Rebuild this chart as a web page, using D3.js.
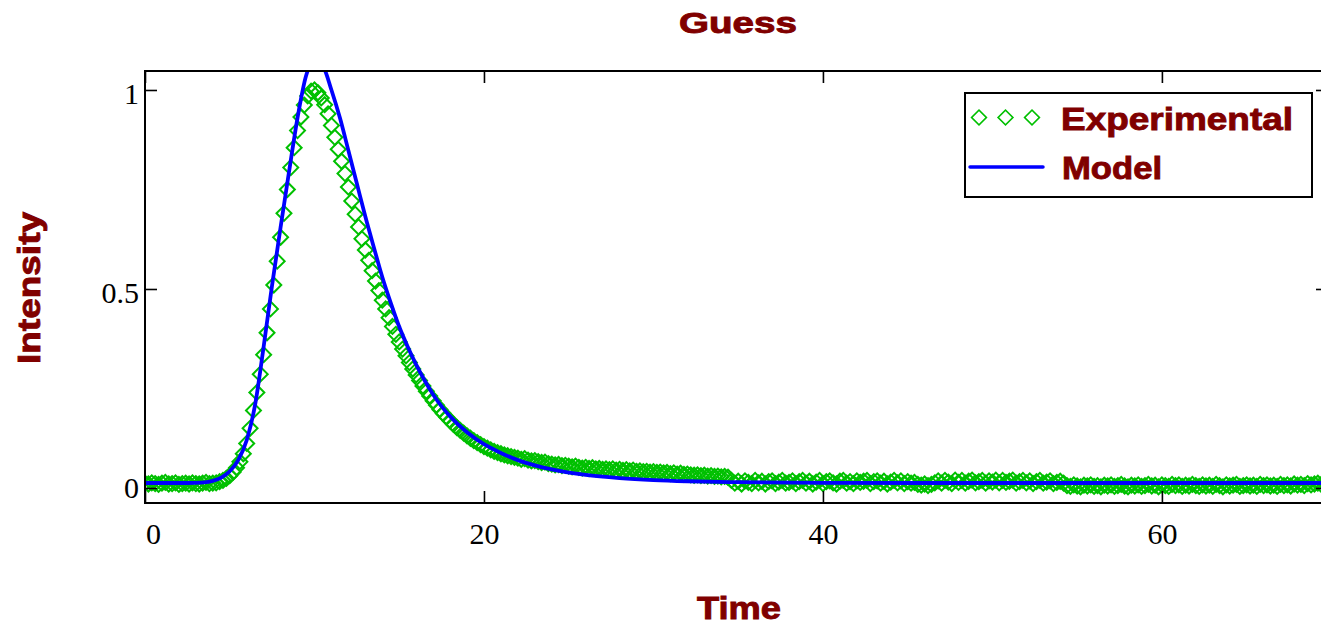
<!DOCTYPE html>
<html>
<head>
<meta charset="utf-8">
<script src="https://cdn.jsdelivr.net/npm/d3@7"></script>
<style>
  html, body { margin: 0; padding: 0; background: #ffffff; }
  svg { display: block; }
</style>
</head>
<body>
<svg id="chart" width="1321" height="627"></svg>
<script>
// ---------------- DATA ----------------
const chartTitle = "Guess";
const xAxisTitle = "Time";
const yAxisTitle = "Intensity";
const seriesNames = ["Experimental", "Model"];

const xTicks = [0, 20, 40, 60];
const yTicks = [0, 0.5, 1];
const xDomain = [0, 69.8];
const yDomain = [-0.0377, 1.0477];

// Experimental series: sampled every 0.2 time units starting at 0
const sampleStart = 0;
const sampleStep = 0.2;
const experimentalValues = [
  // 0.0 - 3.8
  0.012, 0.010, 0.013, 0.011, 0.009, 0.012, 0.014, 0.010, 0.011, 0.013,
  0.009, 0.011, 0.012, 0.010, 0.013, 0.011, 0.010, 0.012, 0.014, 0.011,
  // 4.0 - 9.8
  0.012, 0.013, 0.016, 0.019, 0.024, 0.031, 0.040, 0.051, 0.066, 0.086,
  0.112, 0.150, 0.195, 0.240, 0.286, 0.335, 0.390, 0.450, 0.510, 0.570,
  0.630, 0.690, 0.750, 0.805, 0.855, 0.898, 0.932, 0.962, 0.985, 0.997,
  // 10.0 - 21.8
  1.000, 0.993, 0.980, 0.963, 0.940, 0.911, 0.881, 0.851, 0.821, 0.790,
  0.756, 0.721, 0.688, 0.656, 0.626, 0.598, 0.572, 0.546, 0.520, 0.496,
  0.472, 0.450, 0.428, 0.406, 0.386, 0.367, 0.349, 0.332, 0.315, 0.299,
  0.284, 0.270, 0.256, 0.243, 0.231, 0.219, 0.208, 0.197, 0.187, 0.178,
  0.169, 0.160, 0.152, 0.145, 0.138, 0.131, 0.125, 0.119, 0.114, 0.109,
  0.104, 0.100, 0.096, 0.092, 0.089, 0.086, 0.083, 0.081, 0.079, 0.077,
  // 22.0 - 34.4
  0.075, 0.072, 0.074, 0.070, 0.068, 0.069, 0.066, 0.064, 0.065, 0.061,
  0.060, 0.058, 0.059, 0.056, 0.057, 0.055, 0.053, 0.055, 0.052, 0.050,
  0.052, 0.049, 0.051, 0.048, 0.049, 0.047, 0.048, 0.046, 0.048, 0.045,
  0.047, 0.044, 0.046, 0.043, 0.045, 0.042, 0.043, 0.041, 0.042, 0.040,
  0.041, 0.039, 0.040, 0.038, 0.039, 0.036, 0.038, 0.035, 0.037, 0.034,
  0.035, 0.033, 0.032, 0.033, 0.031, 0.032, 0.030, 0.031, 0.029, 0.030,
  0.028, 0.029, 0.027,
  // 34.6 - 54.2
  0.019, 0.012, 0.017, 0.010, 0.018, 0.014, 0.011, 0.019, 0.013, 0.017,
  0.010, 0.016, 0.018, 0.011, 0.015, 0.019, 0.012, 0.014, 0.018, 0.011,
  0.016, 0.019, 0.012, 0.017, 0.010, 0.015, 0.019, 0.011, 0.016, 0.018,
  0.013, 0.010, 0.017, 0.019, 0.012, 0.016, 0.011, 0.018, 0.014, 0.017,
  0.019, 0.011, 0.016, 0.018, 0.012, 0.017, 0.010, 0.015, 0.019, 0.013,
  0.018, 0.011, 0.016, 0.012, 0.014, 0.009, 0.007, 0.010, 0.006, 0.009,
  0.013, 0.018, 0.012, 0.019, 0.015, 0.011, 0.020, 0.014, 0.019, 0.012,
  0.017, 0.020, 0.013, 0.016, 0.019, 0.012, 0.018, 0.015, 0.020, 0.013,
  0.019, 0.014, 0.017, 0.020, 0.012, 0.016, 0.019, 0.013, 0.018, 0.011,
  0.016, 0.019, 0.012, 0.015, 0.018, 0.011, 0.014, 0.017, 0.012,
  // 54.4 - 69.8
  0.006, 0.004, 0.008, 0.005, 0.003, 0.007, 0.005, 0.008, 0.004, 0.006,
  0.003, 0.007, 0.005, 0.008, 0.004, 0.006, 0.009, 0.005, 0.003, 0.007,
  0.005, 0.008, 0.004, 0.006, 0.009, 0.005, 0.007, 0.003, 0.008, 0.006,
  0.004, 0.009, 0.006, 0.008, 0.004, 0.007, 0.005, 0.009, 0.006, 0.004,
  0.008, 0.005, 0.007, 0.004, 0.009, 0.006, 0.003, 0.008, 0.005, 0.007,
  0.009, 0.004, 0.006, 0.008, 0.005, 0.007, 0.004, 0.009, 0.006, 0.008,
  0.005, 0.007, 0.004, 0.009, 0.006, 0.008, 0.005, 0.010, 0.007, 0.009,
  0.006, 0.011, 0.008, 0.010, 0.012, 0.009, 0.011, 0.010
];

// Model series
const modelTime = [
  0, 2, 3, 3.5, 4, 4.5, 5, 5.5, 6, 6.5, 7, 7.5, 8, 8.5, 9, 9.5, 10, 10.5,
  11, 11.5, 12, 12.5, 13, 13.5, 14, 14.5, 15, 15.5, 16, 16.5, 17, 17.5, 18,
  19, 20, 21, 22, 23, 24, 26, 28, 30, 32, 35, 40, 50, 60, 69.8
];
const modelValues = [
  0.0125, 0.0125, 0.013, 0.014, 0.018, 0.026, 0.042, 0.070, 0.120, 0.210,
  0.355, 0.510, 0.655, 0.795, 0.930, 1.035, 1.075, 1.060, 1.000, 0.930,
  0.848, 0.765, 0.682, 0.605, 0.530, 0.465, 0.405, 0.355, 0.310, 0.270,
  0.235, 0.205, 0.180, 0.140, 0.110, 0.088, 0.070, 0.057, 0.047, 0.033,
  0.025, 0.020, 0.017, 0.0145, 0.013, 0.0125, 0.0125, 0.0125
];

// ---------------- LAYOUT ----------------
const plotLeft = 145, plotRight = 1328, plotTop = 71, plotBottom = 503;
const darkRed = "#800000";
const green = "#00c000";
const blue = "#0000ff";

const svg = d3.select("#chart");

const x = d3.scaleLinear().domain(xDomain).range([plotLeft, plotRight]);
const y = d3.scaleLinear().domain(yDomain).range([plotBottom, plotTop]);

const expData = experimentalValues.map((v, i) => ({ t: sampleStart + i * sampleStep, v }));
const modelData = modelTime.map((t, i) => ({ t, v: modelValues[i] }));

svg.append("defs").append("clipPath").attr("id", "plotClip")
  .append("rect")
  .attr("x", plotLeft).attr("y", plotTop)
  .attr("width", plotRight - plotLeft).attr("height", plotBottom - plotTop);

const plot = svg.append("g").attr("clip-path", "url(#plotClip)");

const diamond = d3.symbol().type(d3.symbolSquare).size(112);

plot.append("g")
  .selectAll("path")
  .data(expData)
  .join("path")
  .attr("d", diamond)
  .attr("transform", d => `translate(${x(d.t)},${y(d.v)}) rotate(45)`)
  .attr("fill", "none")
  .attr("stroke", green)
  .attr("stroke-width", 2);

const line = d3.line()
  .x(d => x(d.t))
  .y(d => y(d.v))
  .curve(d3.curveMonotoneX);

plot.append("path")
  .datum(modelData)
  .attr("d", line)
  .attr("fill", "none")
  .attr("stroke", blue)
  .attr("stroke-width", 3.8);

// ---------------- AXES ----------------
const tickStyle = g => {
  g.select(".domain").remove();
  g.selectAll(".tick line").attr("stroke", "#000").attr("stroke-width", 1.6);
};

const serifFont = "'Liberation Serif', 'Times New Roman', serif";

const xAxisBottom = svg.append("g")
  .attr("transform", `translate(0,${plotBottom})`)
  .call(d3.axisBottom(x).tickValues(xTicks).tickSize(-12).tickFormat(d3.format("d")))
  .call(tickStyle);
xAxisBottom.selectAll("text")
  .attr("y", 41).attr("dy", 0)
  .attr("dx", d => d === 0 ? 8 : 0)
  .attr("font-family", serifFont)
  .attr("font-size", 30)
  .attr("fill", "#000");

svg.append("g")
  .attr("transform", `translate(0,${plotTop})`)
  .call(d3.axisTop(x).tickValues(xTicks).tickSize(-12).tickFormat(""))
  .call(tickStyle);

const yAxisLeft = svg.append("g")
  .attr("transform", `translate(${plotLeft},0)`)
  .call(d3.axisLeft(y).tickValues(yTicks).tickSize(-12).tickPadding(6).tickFormat(d3.format("")))
  .call(tickStyle);
yAxisLeft.selectAll("text")
  .attr("x", -6)
  .attr("dy", d => d === 0 ? 10 : 14)
  .attr("font-family", serifFont)
  .attr("font-size", 30)
  .attr("fill", "#000");

svg.append("g")
  .attr("transform", `translate(${plotRight},0)`)
  .call(d3.axisRight(y).tickValues(yTicks).tickSize(-12).tickFormat(""))
  .call(tickStyle);

// Frame
svg.append("rect")
  .attr("x", plotLeft).attr("y", plotTop)
  .attr("width", plotRight - plotLeft).attr("height", plotBottom - plotTop)
  .attr("fill", "none")
  .attr("stroke", "#000")
  .attr("stroke-width", 2);

// ---------------- TITLES ----------------
const boldFont = "'Liberation Sans', Arial, sans-serif";
const heavy = sel => sel
  .attr("font-family", boldFont).attr("font-weight", "bold")
  .attr("fill", darkRed)
  .attr("stroke", darkRed).attr("stroke-width", 0.9)
  .attr("lengthAdjust", "spacingAndGlyphs");

svg.append("text")
  .attr("x", 738).attr("y", 33)
  .attr("text-anchor", "middle")
  .attr("font-size", 30)
  .attr("textLength", 118)
  .call(heavy)
  .text(chartTitle);

svg.append("text")
  .attr("x", 739).attr("y", 619)
  .attr("text-anchor", "middle")
  .attr("font-size", 31)
  .attr("textLength", 84)
  .call(heavy)
  .text(xAxisTitle);

svg.append("text")
  .attr("transform", "translate(40,288) rotate(-90)")
  .attr("text-anchor", "middle")
  .attr("font-size", 31)
  .attr("textLength", 152)
  .call(heavy)
  .text(yAxisTitle);

// ---------------- LEGEND ----------------
const legend = svg.append("g");
legend.append("rect")
  .attr("x", 965).attr("y", 93)
  .attr("width", 347).attr("height", 104)
  .attr("fill", "#fff")
  .attr("stroke", "#000")
  .attr("stroke-width", 2);

const legendDiamond = d3.symbol().type(d3.symbolSquare).size(110);
legend.append("g")
  .selectAll("path")
  .data([979, 1005.5, 1032])
  .join("path")
  .attr("d", legendDiamond)
  .attr("transform", d => `translate(${d},117.5) rotate(45)`)
  .attr("fill", "none")
  .attr("stroke", green)
  .attr("stroke-width", 1.6);

legend.append("line")
  .attr("x1", 970).attr("x2", 1043)
  .attr("y1", 167).attr("y2", 167)
  .attr("stroke", blue)
  .attr("stroke-width", 3.5)
  .attr("stroke-linecap", "round");

legend.append("text")
  .attr("x", 1061).attr("y", 130)
  .attr("font-size", 32)
  .attr("textLength", 232)
  .call(heavy)
  .text(seriesNames[0]);

legend.append("text")
  .attr("x", 1062).attr("y", 179)
  .attr("font-size", 32)
  .attr("textLength", 100)
  .call(heavy)
  .text(seriesNames[1]);
</script>
</body>
</html>
